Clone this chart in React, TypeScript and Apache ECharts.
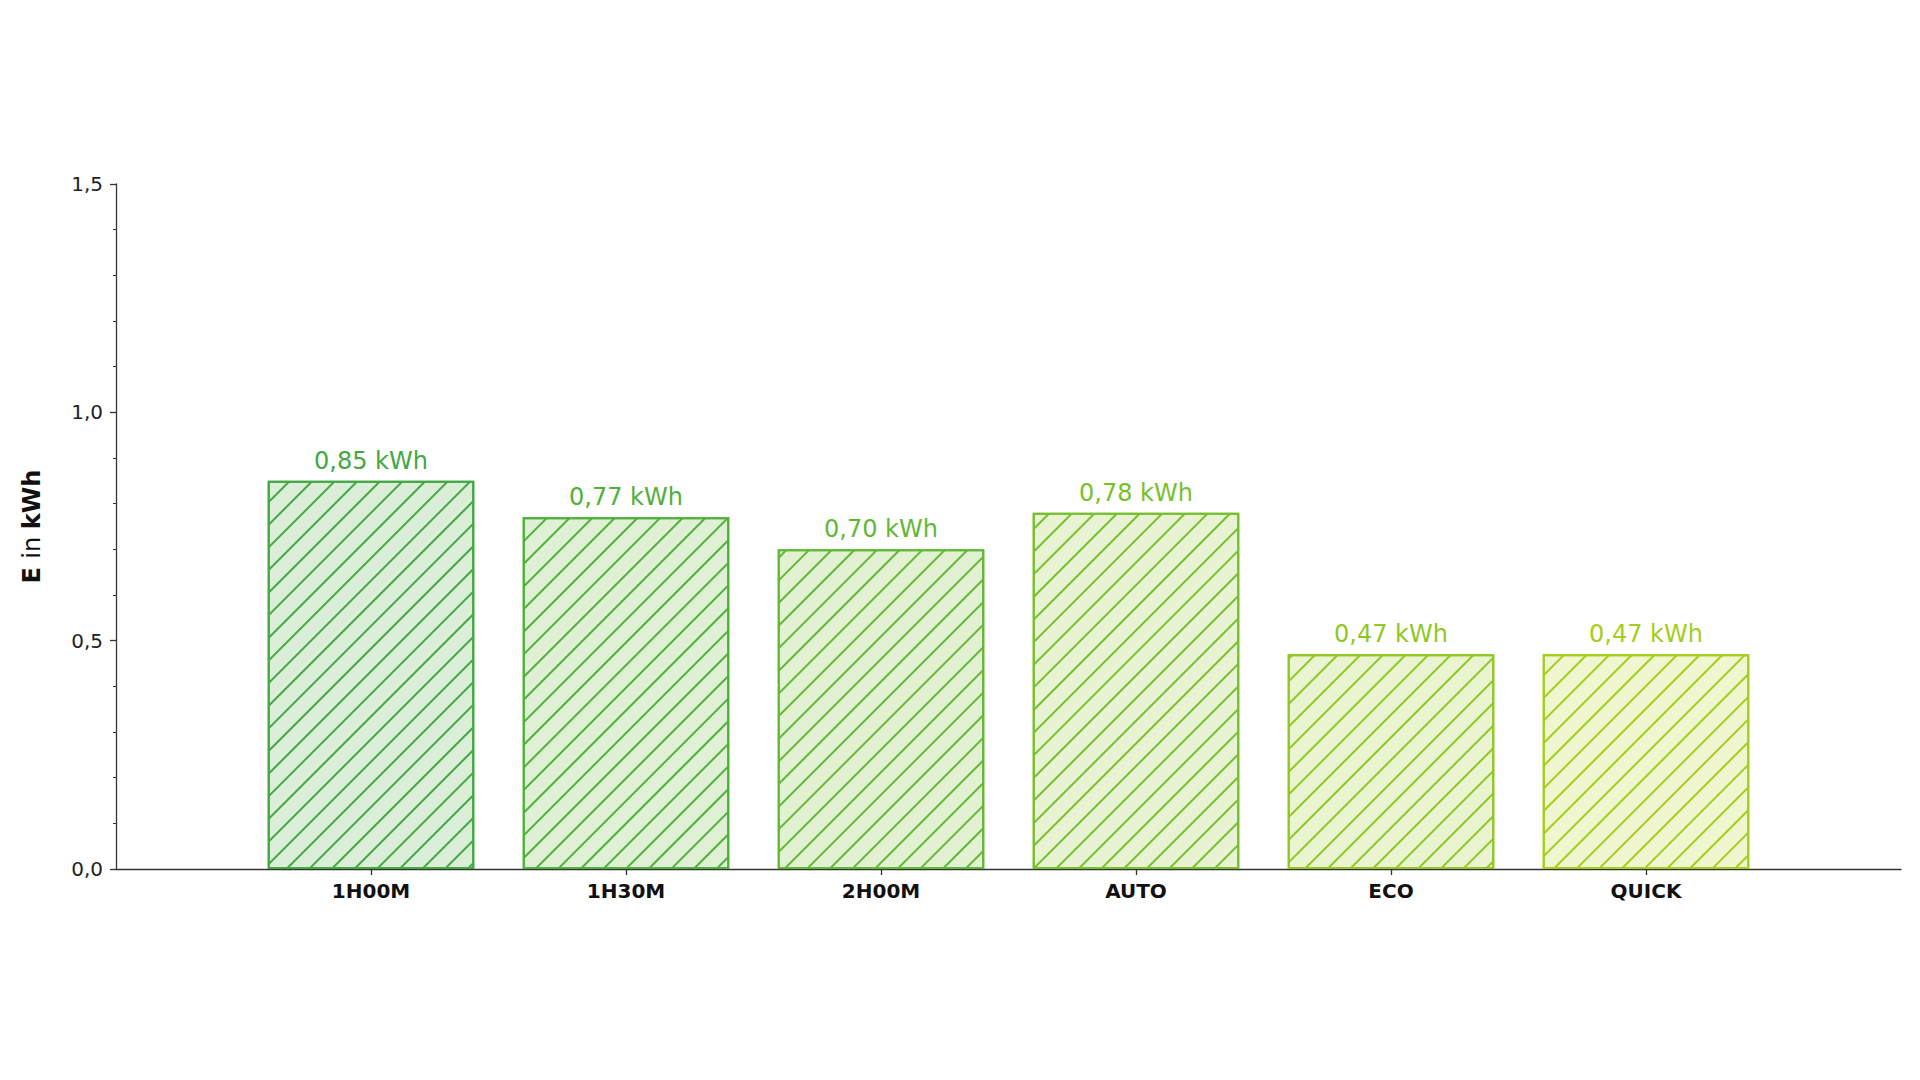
import React, { useEffect, useRef } from "react";
import * as echarts from "echarts";

const categories = ["1H00M", "1H30M", "2H00M", "AUTO", "ECO", "QUICK"];
const energyKWh = [0.85, 0.77, 0.7, 0.78, 0.47, 0.47];
const edgeColors = ["#43a843", "#4fb03a", "#62b834", "#78bf2c", "#90c724", "#a5cd1c"];
const fillColors = ["#dbeed7", "#dff0d5", "#e3f1d3", "#e7f3d2", "#ebf4d1", "#eff6d0"];
const yTicks = [0, 0.5, 1.0, 1.5];

const FONT = "DejaVu Sans";

export default function App() {
  const ref = useRef<HTMLDivElement>(null);
  useEffect(() => {
    if (!ref.current) return;
    const chart = echarts.init(ref.current, undefined, { renderer: "svg" });
    const cats = ["", ...categories, ""];
    const data: any[] = ["-"];
    energyKWh.forEach((v, i) => {
      data.push({
        value: v,
        itemStyle: {
          color: fillColors[i],
          borderColor: edgeColors[i],
          borderWidth: 2,
          decal: {
            symbol: "rect",
            symbolSize: 1,
            color: edgeColors[i],
            dashArrayX: [1, 0],
            dashArrayY: [1.6, 13.5],
            rotation: -Math.PI / 4,
          },
        },
        label: { color: edgeColors[i] },
      });
    });
    data.push("-");
    chart.setOption({
      animation: false,
      backgroundColor: "#ffffff",
      grid: { left: 116, right: 19, top: 184, bottom: 211, containLabel: false },
      xAxis: {
        type: "category",
        data: cats,
        boundaryGap: false,
        axisLine: { show: true, lineStyle: { color: "#333333", width: 1.3 } },
        axisTick: {
          show: true,
          length: 6,
          interval: (idx: number) => idx > 0 && idx < cats.length - 1,
          lineStyle: { color: "#333333", width: 1.3 },
        },
        axisLabel: {
          interval: 0,
          margin: 12,
          fontFamily: FONT,
          fontWeight: "bold",
          fontSize: 20,
          color: "#111111",
        },
        splitLine: { show: false },
      },
      yAxis: {
        type: "value",
        min: yTicks[0],
        max: yTicks[yTicks.length - 1],
        interval: 0.5,
        name: "{b|E }{r|in }{b|kWh}",
        nameLocation: "middle",
        nameRotate: 90,
        nameGap: 72,
        nameTextStyle: {
          rich: {
            b: { fontFamily: FONT, fontWeight: "bold", fontSize: 24, color: "#111111" },
            r: { fontFamily: FONT, fontSize: 24, color: "#111111" },
          },
        },
        axisLine: { show: true, lineStyle: { color: "#3a3035", width: 1.3 } },
        axisTick: { show: true, length: 6, lineStyle: { color: "#333333", width: 1.3 } },
        minorTick: { show: true, splitNumber: 5, length: 3, lineStyle: { color: "#333333", width: 1 } },
        axisLabel: {
          margin: 13,
          fontFamily: FONT,
          fontSize: 20,
          color: "#222222",
          formatter: (v: number) => v.toFixed(1).replace(".", ","),
        },
        splitLine: { show: false },
        minorSplitLine: { show: false },
      },
      series: [
        {
          type: "bar",
          data,
          barWidth: "81%",
          label: {
            show: true,
            position: "top",
            distance: 8,
            fontFamily: FONT,
            fontSize: 24,
            formatter: (p: any) => p.value.toFixed(2).replace(".", ",") + " kWh",
          },
        },
      ],
    });
    return () => chart.dispose();
  }, []);
  return (
    <div
      ref={ref}
      style={{ position: "fixed", left: 0, top: 0, width: 1920, height: 1080, background: "#fff" }}
    />
  );
}
